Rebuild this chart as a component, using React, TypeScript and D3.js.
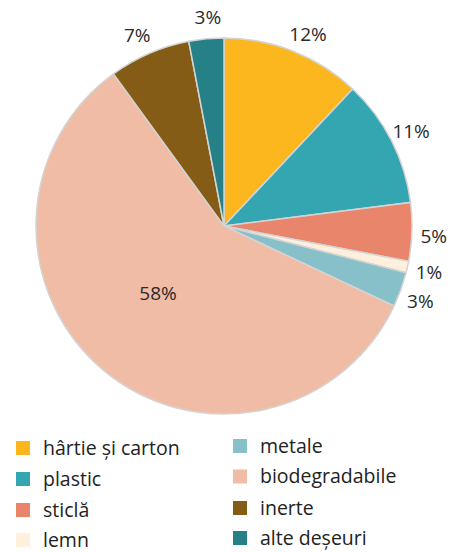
import React from "react";
import * as d3 from "d3";

const categories = ["hârtie și carton", "plastic", "sticlă", "lemn", "metale", "biodegradabile", "inerte", "alte deșeuri"];
const values = [12, 11, 5, 1, 3, 58, 7, 3];
const labels = ["12%", "11%", "5%", "1%", "3%", "58%", "7%", "3%"];
const colors = ["#FBB71D", "#34A6B2", "#E8856A", "#FEF0DC", "#88C0CA", "#F0BCA5", "#855C15", "#258088"];
const labelNudgeDeg = [2, 0, 1, 0, 1, 5, -1, 1];
const labelInside = [false, false, false, false, false, true, false, false];
const legendCol = [0, 0, 0, 0, 1, 1, 1, 1];
const legendRowLeft = [448, 479, 510, 540];
const legendRowRight = [446, 476.5, 508, 538];

export default function App() {
  const W = 457, H = 552;
  const cx = 224, cy = 226, r = 188;
  const pie = d3.pie<number>().sort(null).value((d) => d);
  const arcs = pie(values);
  const arc = d3.arc<d3.PieArcDatum<number>>().innerRadius(0).outerRadius(r);
  const font = "'Open Sans', sans-serif";
  return (
    <svg width={W} height={H} style={{ position: "absolute", left: 0, top: 0, background: "#fff" }}>
      <g transform={`translate(${cx},${cy})`}>
        {arcs.map((a, i) => (
          <path key={i} d={arc(a) || ""} fill={colors[i]} stroke="#d4d4d4" strokeWidth={1.5} />
        ))}
        {arcs.map((a, i) => {
          const mid = (a.startAngle + a.endAngle) / 2 + (labelNudgeDeg[i] * Math.PI) / 180;
          const lr = labelInside[i] ? r * 0.5 : r + 22;
          const x = Math.sin(mid) * lr;
          const y = -Math.cos(mid) * lr;
          return (
            <text key={i} x={x} y={y} textAnchor="middle" dominantBaseline="central" fontFamily={font} fontSize={19} fill="#2a2a2a">
              {labels[i]}
            </text>
          );
        })}
      </g>
      {categories.map((c, i) => {
        const col = legendCol[i];
        const row = col === 0 ? i : i - 4;
        const y = col === 0 ? legendRowLeft[row] : legendRowRight[row];
        const sx = col === 0 ? 16 : 233;
        const tx = col === 0 ? 43 : 260;
        return (
          <g key={c}>
            <rect x={sx} y={y - 7} width={14} height={14} fill={colors[i]} />
            <text x={tx} y={y + 6.5} fontFamily={font} fontSize={19.5} fill="#222">
              {c}
            </text>
          </g>
        );
      })}
    </svg>
  );
}
